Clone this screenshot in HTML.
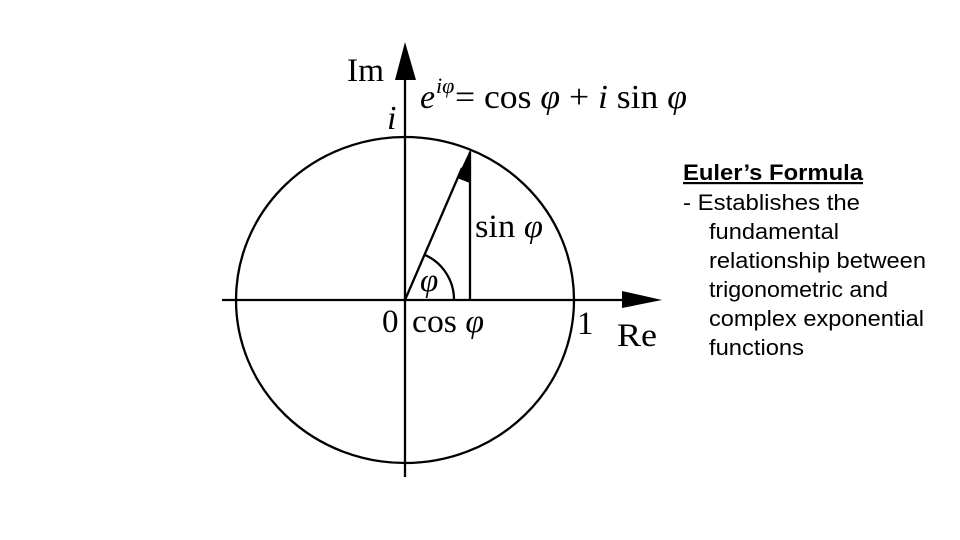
<!DOCTYPE html>
<html><head><meta charset="utf-8"><style>
body{margin:0;background:#fff;}
svg{display:block}
.t{font-family:"Liberation Serif",serif;fill:#000}
.s{font-family:"Liberation Sans",sans-serif;fill:#000;font-size:22px}
</style></head><body>
<svg width="960" height="540" viewBox="0 0 960 540">
<g stroke="#000" stroke-width="2.3" fill="none">
<ellipse cx="405" cy="300" rx="169" ry="163"/>
<line x1="405" y1="72" x2="405" y2="477"/>
<line x1="222" y1="300" x2="630" y2="300"/>
<line x1="470" y1="152" x2="470" y2="300"/>
<line x1="405" y1="300" x2="462" y2="168"/>
<path d="M454,300 A49,49 0 0 0 425,255"/>
</g>
<polygon points="405,42 395,80 416,80" fill="#000"/>
<polygon points="662,300 622,291 622,308" fill="#000"/>
<polygon points="471,148 457,178 470,183" fill="#000"/>
<text class="t" x="347" y="81" font-size="33" textLength="37" lengthAdjust="spacingAndGlyphs">Im</text>
<text class="t" x="387" y="129" font-size="34" font-style="italic">i</text>
<text class="t" x="420" y="108" font-size="34" font-style="italic">e</text>
<text class="t" x="436" y="93" font-size="22" font-style="italic">iφ</text>
<text class="t" x="455" y="108" font-size="34" textLength="232" lengthAdjust="spacingAndGlyphs">= cos <tspan font-style="italic">φ</tspan> + <tspan font-style="italic">i</tspan> sin <tspan font-style="italic">φ</tspan></text>
<text class="t" x="475" y="237" font-size="33" textLength="68" lengthAdjust="spacingAndGlyphs">sin <tspan font-style="italic">φ</tspan></text>
<text class="t" x="420" y="291" font-size="33" font-style="italic">φ</text>
<text class="t" x="382" y="332" font-size="33">0</text>
<text class="t" x="412" y="332" font-size="33" textLength="72" lengthAdjust="spacingAndGlyphs">cos <tspan font-style="italic">φ</tspan></text>
<text class="t" x="577" y="334" font-size="33">1</text>
<text class="t" x="617" y="346" font-size="33" textLength="40" lengthAdjust="spacingAndGlyphs">Re</text>
<text class="s" x="683" y="180" font-weight="bold" text-decoration="underline" textLength="180" lengthAdjust="spacingAndGlyphs">Euler’s Formula</text>
<text class="s" x="683" y="210" textLength="177" lengthAdjust="spacingAndGlyphs">- Establishes the</text>
<text class="s" x="709" y="239" textLength="130" lengthAdjust="spacingAndGlyphs">fundamental</text>
<text class="s" x="709" y="268" textLength="217" lengthAdjust="spacingAndGlyphs">relationship between</text>
<text class="s" x="709" y="297" textLength="179" lengthAdjust="spacingAndGlyphs">trigonometric and</text>
<text class="s" x="709" y="326" textLength="215" lengthAdjust="spacingAndGlyphs">complex exponential</text>
<text class="s" x="709" y="355" textLength="95" lengthAdjust="spacingAndGlyphs">functions</text>
</svg>
</body></html>
